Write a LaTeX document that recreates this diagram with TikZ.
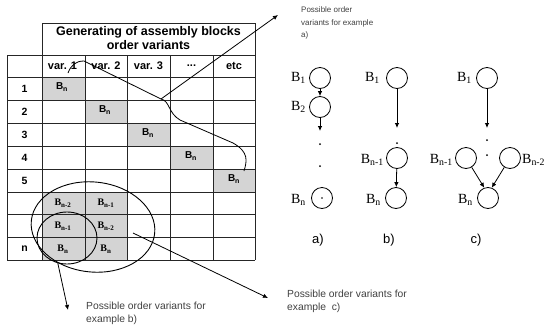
\documentclass[tikz,border=0pt]{standalone}
\usepackage{fontspec}
\setmainfont{Liberation Serif}
\setsansfont{Liberation Sans}
\usetikzlibrary{arrows.meta,shapes.geometric}
\begin{document}
\begin{tikzpicture}[x=1pt,y=-1pt,
  gridline/.style={line width=0.9pt, draw=black!85},
  shade/.style={fill=black!17, draw=none},
  hdr/.style={font=\sffamily\bfseries\fontsize{12.5}{14}\selectfont, align=center, inner sep=0pt},
  varlab/.style={font=\sffamily\bfseries\fontsize{11}{12}\selectfont, inner sep=0pt},
  rowlab/.style={font=\sffamily\bfseries\fontsize{10.5}{11}\selectfont, inner sep=0pt},
  cellsans/.style={font=\sffamily\bfseries\fontsize{10}{11}\selectfont, inner sep=0pt},
  cellser/.style={font=\bfseries\fontsize{10}{11}\selectfont, inner sep=0pt},
  note/.style={text=black!75, align=left, anchor=north west, inner sep=0pt},
  blk/.style={circle, draw, line width=0.8pt, minimum size=21pt, inner sep=0pt},
  blab/.style={font=\fontsize{14}{15}\selectfont, inner sep=0pt},
  arr/.style={-{Latex[length=5pt,width=4.5pt]}, line width=0.8pt},
  sublab/.style={font=\sffamily\fontsize{13}{14}\selectfont, inner sep=0pt},
  ring/.style={draw, ellipse, line width=0.9pt, inner sep=0pt},
]
\useasboundingbox (0,0) rectangle (547,330);

% shaded cells
\fill[shade] (42,77) rectangle (85,100);
\fill[shade] (85,100) rectangle (127,123);
\fill[shade] (127,123) rectangle (170,146);
\fill[shade] (170,146) rectangle (213,169);
\fill[shade] (213,169) rectangle (255,192);
\fill[shade] (42,192) rectangle (127,260);

% grid
\draw[gridline] (42,23) rectangle (255,55);
\foreach \y in {55,77,100,123,146,169,192,214,237,260}
  \draw[gridline] (7,\y) -- (255,\y);
\foreach \x in {7,85,127,170,213}
  \draw[gridline] (\x,55) -- (\x,260);
\draw[gridline] (42,23) -- (42,260);
\draw[gridline] (255,23) -- (255,260);

% header texts
\node[hdr] (title) at (148.5,38.5) {Generating of assembly blocks\\order variants};
\node[varlab] (v1) at (62.5,66) {var. 1};
\node[varlab] (v2) at (106,66) {var. 2};
\node[varlab] (v3) at (148.5,66) {var. 3};
\node[varlab] (v4) at (191.5,66) {...};
\node[varlab] (v5) at (234,66) {etc};
\node[rowlab] (r1) at (24.5,88.5) {1};
\node[rowlab] (r2) at (24.5,111.5) {2};
\node[rowlab] (r3) at (24.5,134.5) {3};
\node[rowlab] (r4) at (24.5,157.5) {4};
\node[rowlab] (r5) at (24.5,180.5) {5};
\node[rowlab] (rn) at (24.5,248.5) {n};

% cell contents
\node[cellsans] (c11) at (62,87) {B\textsubscript{n}};
\node[cellsans] (c22) at (105,110) {B\textsubscript{n}};
\node[cellsans] (c33) at (148,133) {B\textsubscript{n}};
\node[cellsans] (c44) at (191,156) {B\textsubscript{n}};
\node[cellsans] (c55) at (234,179) {B\textsubscript{n}};
\node[cellser] (c61) at (63,203) {B\textsubscript{n-2}};
\node[cellser] (c71) at (63,226) {B\textsubscript{n-1}};
\node[cellser] (c81) at (63,249) {B\textsubscript{n}};
\node[cellser] (c62) at (106,203) {B\textsubscript{n-1}};
\node[cellser] (c72) at (106,226) {B\textsubscript{n-2}};
\node[cellser] (c82) at (106,249) {B\textsubscript{n}};

% ellipses
\node[ring, minimum width=124pt, minimum height=90pt, rotate=-6] (bigE) at (93,227) {};
\node[ring, minimum width=60pt, minimum height=52pt] (smallE) at (67,238) {};

% notes
\node[note, font=\sffamily\fontsize{8}{12.5}\selectfont] (na) at (301,7) {Possible order\\variants for example\\a)};
\node[note, font=\sffamily\fontsize{10.3}{13}\selectfont] (nb) at (86,302) {Possible order variants for\\example b)};
\node[note, font=\sffamily\fontsize{10.3}{13}\selectfont] (nc) at (287,290) {Possible order variants for\\example\ \ c)};

% pointer lines
\coordinate (p0) at (68,73);
\coordinate (p1) at (84,61);
\coordinate (pv) at (161,99);
\coordinate (p2) at (180,120);
\coordinate (p3) at (233,143);
\coordinate (p4) at (244,171);
\coordinate (ta) at (278,15);
\draw[line width=0.8pt] (p0) .. controls (71,65) and (76,61) .. (p1) -- (pv)
  .. controls (170,101) and (168,113) .. (p2) -- (p3) .. controls (249,152) and (247,161) .. (p4);
\draw[arr] (pv) -- (ta);
\coordinate (tb) at (68,310);
\draw[arr] (smallE.250) -- (tb);
\coordinate (cs) at (133,233);
\coordinate (tc) at (268,298);
\draw[arr] (cs) -- (tc);

% tree a
\node[blk] (a1) at (320,78) {};
\node[blk] (a2) at (320,107) {};
\node[blk] (an) at (322,198) {};
\fill (an.center) circle (0.8);
\coordinate (ae) at (320,131);
\draw[arr] (a1) -- (a2);
\draw[arr] (a2) -- (ae);
\fill (320,144) circle (1);
\fill (320,166) circle (1);
\node[blab, anchor=east] (la1) at (306,78) {B\textsubscript{1}};
\node[blab, anchor=east] (la2) at (306,107) {B\textsubscript{2}};
\node[blab, anchor=east] (lan) at (306,200) {B\textsubscript{n}};

% tree b
\node[blk] (b1) at (397,78) {};
\node[blk] (b2) at (397,158) {};
\node[blk] (bn) at (396,198) {};
\coordinate (be) at (397,128);
\draw[arr] (b1) -- (be);
\fill (397,143) circle (1);
\draw[arr] (b2) -- (bn);
\node[blab, anchor=east] (lb1) at (380,78) {B\textsubscript{1}};
\node[blab, anchor=east] (lb2) at (384,160) {B\textsubscript{n-1}};
\node[blab, anchor=east] (lbn) at (381,200) {B\textsubscript{n}};

% tree c
\node[blk] (c1) at (487,78) {};
\node[blk] (c2) at (466,158) {};
\node[blk] (c3) at (510,158) {};
\node[blk] (cn) at (488,198) {};
\coordinate (ce) at (487,128);
\draw[arr] (c1) -- (ce);
\fill (487,140) circle (1);
\fill (487,155) circle (1);
\draw[arr] (c2) -- (cn.110);
\draw[arr] (c3) -- (cn.70);
\node[blab, anchor=east] (lc1) at (472,78) {B\textsubscript{1}};
\node[blab, anchor=east] (lc2) at (453,160) {B\textsubscript{n-1}};
\node[blab, anchor=west] (lc3) at (522,160) {B\textsubscript{n-2}};
\node[blab, anchor=east] (lcn) at (473,200) {B\textsubscript{n}};

% sub labels
\node[sublab] (sa) at (318,240) {a)};
\node[sublab] (sb) at (389,240) {b)};
\node[sublab] (sc) at (476,240) {c)};
\end{tikzpicture}
\end{document}
